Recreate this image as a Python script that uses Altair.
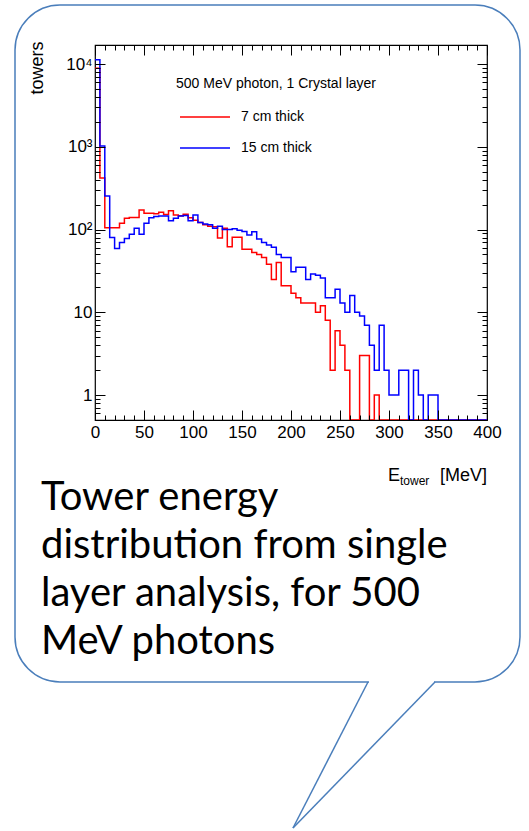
import altair as alt
import pandas as pd

# ---------------- data ----------------
bin_width = 5  # MeV
red_counts = [8900, 420, 105, 105, 105, 119, 137, 140, 140, 172,
              157, 157, 155, 162, 152, 169, 150, 147, 153, 139,
              130, 122, 114, 110, 108, 79, 104, 62, 81, 81,
              58, 58, 53, 50, 46, 38, 25, 40, 21, 21,
              17, 15, 13, 13, 13, 10, 12, 8, 2, 6,
              4, 2, 0, 0, 3, 3, 0, 1, 0, 0,
              0, 0, 0, 0, 0, 0, 0, 0, 0, 0,
              0, 0, 0, 0, 0, 0, 0, 0, 0, 0]
blue_counts = [11300, 1020, 255, 80, 59, 70, 78, 88, 104, 88,
               119, 139, 144, 146, 146, 128, 137, 146, 148, 128,
               150, 122, 117, 114, 104, 110, 100, 100, 102, 98,
               95, 86, 94, 77, 70, 65, 61, 50, 46, 46,
               31, 35, 35, 25, 29, 28, 26, 15, 15, 19,
               13, 10, 16, 10, 9, 7, 4, 2, 7, 2,
               1, 1, 2, 2, 0, 2, 1, 0, 1, 1,
               0, 0, 0, 0, 0, 0, 0, 0, 0, 0]
series_names = ["7 cm thick", "15 cm thick"]
series_colors = ["#ff0000", "#0000ff"]
legend_title = "500 MeV photon, 1 Crystal layer"
x_major = [0, 50, 100, 150, 200, 250, 300, 350, 400]
x_minor = [10, 20, 30, 40, 60, 70, 80, 90, 110, 120, 130, 140, 160, 170, 180, 190,
           210, 220, 230, 240, 260, 270, 280, 290, 310, 320, 330, 340, 360, 370, 380, 390]
y_major = [1, 10, 100, 1000, 10000]
y_minor = [0.6, 0.7, 0.8, 0.9, 2, 3, 4, 5, 6, 7, 8, 9, 20, 30, 40, 50, 60, 70, 80, 90,
           200, 300, 400, 500, 600, 700, 800, 900, 2000, 3000, 4000, 5000, 6000, 7000, 8000, 9000]
x_domain = [0, 400]
y_domain = [0.5, 17000]
y_title = "towers"
x_title_parts = ["E", "tower", "[MeV]"]
caption_lines = ["Tower energy", "distribution from single", "layer analysis, for 500", "MeV photons"]

# ---------------- layout ----------------
W, H = 392, 375
PAD_L, PAD_T = 95, 45
FONT = "Liberation Sans"
BUBBLE = "#4a7ebb"


def step_frame(counts, name):
    xs = [i * bin_width for i in range(len(counts))] + [len(counts) * bin_width]
    ys = [max(c, y_domain[0]) for c in counts] + [max(counts[-1], y_domain[0])]
    return pd.DataFrame({"E": xs, "n": ys, "series": name})


red_df = step_frame(red_counts, series_names[0])
blue_df = step_frame(blue_counts, series_names[1])

xs = alt.Scale(domain=x_domain, nice=False, zero=False)
ys = alt.Scale(type="log", domain=y_domain, nice=False)


def tick_axis(orient, values, size, offset):
    return alt.Axis(orient=orient, values=values, tickSize=size, ticks=True, labels=False,
                    domain=False, grid=False, title="", offset=offset,
                    tickColor="black", tickWidth=1, zindex=1)


y_label_expr = ("datum.value == 1 ? '1' : datum.value == 10 ? '10' : datum.value == 100 ? '10\u00b2'"
                " : datum.value == 1000 ? '10\u00b3' : '10\u2074'")

label_x_axis = alt.Axis(orient="bottom", values=x_major, ticks=False, tickSize=0, domain=False,
                        grid=False, title="", labelFontSize=17, labelFont=FONT, labelColor="black",
                        labelPadding=4, labelFlush=False, labelOverlap=False, zindex=1)
label_y_axis = alt.Axis(orient="left", values=y_major, ticks=False, tickSize=0, domain=False,
                        grid=False, labelFontSize=17, labelFont=FONT, labelColor="black",
                        labelPadding=3, labelFlush=False, labelOverlap=False, labelExpr=y_label_expr,
                        title=y_title, titleFont=FONT, titleFontSize=18, titleFontWeight="normal",
                        titleColor="black", titleAngle=270, titleAlign="right", titleBaseline="middle",
                        titleX=-58, titleY=-4, zindex=1)


def hist_layer(df, color, xaxis, yaxis, opacity=1.0):
    return alt.Chart(df).mark_line(interpolate="step-after", color=color, strokeWidth=1.5,
                                   opacity=opacity, clip=True).encode(
        x=alt.X("E:Q", scale=xs, axis=xaxis),
        y=alt.Y("n:Q", scale=ys, axis=yaxis),
    )


one = pd.DataFrame({"k": [0]})

# speech bubble (outline only; the page is white)
bubble = alt.Chart(one).mark_rect(fillOpacity=0, stroke=BUBBLE, strokeWidth=1.5, cornerRadius=45).encode(
    x=alt.value(15 - PAD_L), x2=alt.value(520 - PAD_L), y=alt.value(5 - PAD_T), y2=alt.value(682 - PAD_T))
tail_cover = alt.Chart(one).mark_rule(color="white", strokeWidth=4).encode(
    x=alt.value(369 - PAD_L), x2=alt.value(434 - PAD_L), y=alt.value(682 - PAD_T), y2=alt.value(682 - PAD_T))
tail_left = alt.Chart(one).mark_rule(color=BUBBLE, strokeWidth=1.5).encode(
    x=alt.value(368 - PAD_L), x2=alt.value(293 - PAD_L), y=alt.value(682 - PAD_T), y2=alt.value(828 - PAD_T))
tail_right = alt.Chart(one).mark_rule(color=BUBBLE, strokeWidth=1.5).encode(
    x=alt.value(435 - PAD_L), x2=alt.value(293 - PAD_L), y=alt.value(682 - PAD_T), y2=alt.value(828 - PAD_T))

red = hist_layer(red_df, series_colors[0], label_x_axis, label_y_axis)
blue = hist_layer(blue_df, series_colors[1],
                  tick_axis("top", x_major, 10, -H), tick_axis("right", y_major, 10, -W))
inv1 = hist_layer(blue_df, series_colors[1],
                  tick_axis("top", x_minor, 5, -H), tick_axis("right", y_minor, 5, -W), opacity=0)
inv2 = hist_layer(blue_df, series_colors[1],
                  tick_axis("bottom", x_major, 10, -H), tick_axis("left", y_major, 10, -W), opacity=0)
inv3 = hist_layer(blue_df, series_colors[1],
                  tick_axis("bottom", x_minor, 5, -H), tick_axis("left", y_minor, 5, -W), opacity=0)


def text_layer(txt, x, y, size, align="left", baseline="middle", font=FONT):
    return alt.Chart(one).mark_text(align=align, baseline=baseline, fontSize=size, font=font,
                                    color="black").encode(
        x=alt.value(x), y=alt.value(y), text=alt.value(txt))


legend_layers = [text_layer(legend_title, 176 - PAD_L, 84 - PAD_T, 14)]
for i, (name, col) in enumerate(zip(series_names, series_colors)):
    yy = 117 - PAD_T + i * 31
    legend_layers.append(alt.Chart(one).mark_rule(color=col, strokeWidth=1.5).encode(
        x=alt.value(180 - PAD_L), x2=alt.value(230 - PAD_L), y=alt.value(yy), y2=alt.value(yy)))
    legend_layers.append(text_layer(name, 241 - PAD_L, yy, 14))

xtitle_layers = [
    text_layer(x_title_parts[0], 388 - PAD_L, 481 - PAD_T, 18, baseline="alphabetic"),
    text_layer(x_title_parts[1], 400 - PAD_L, 485 - PAD_T, 12, baseline="alphabetic"),
    text_layer(x_title_parts[2], W, 481 - PAD_T, 18, align="right", baseline="alphabetic"),
]

caption_layers = [text_layer(line, 41 - PAD_L, 510 - PAD_T + i * 48, 40, baseline="alphabetic", font="Lato")
                  for i, line in enumerate(caption_lines)]

chart = alt.layer(
    bubble, tail_cover, tail_left, tail_right,
    red, blue, inv1, inv2, inv3,
    *legend_layers, *xtitle_layers, *caption_layers,
).resolve_axis(x="independent", y="independent").properties(
    width=W, height=H,
    padding={"left": PAD_L, "top": PAD_T, "right": 529 - PAD_L - W, "bottom": 831 - PAD_T - H},
    autosize=alt.AutoSizeParams(type="none"),
    background="white",
).configure_view(stroke="black", strokeWidth=1.2)

chart.save("out.html", embed_options={"renderer": "svg", "actions": False})
